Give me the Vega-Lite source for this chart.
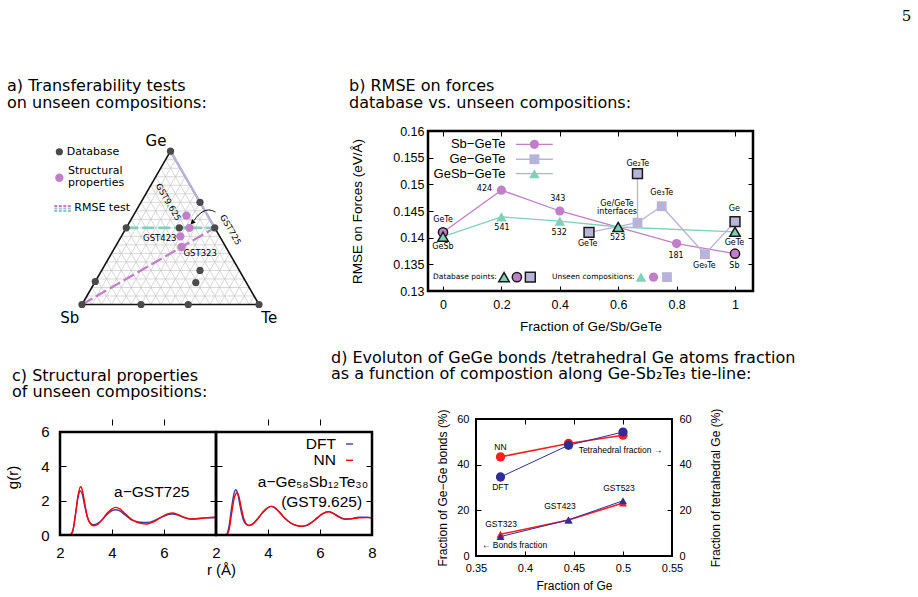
{
  "$schema": "https://vega.github.io/schema/vega-lite/v6.json",
  "background": "white",
  "padding": {"left": 5, "top": 8, "right": 2, "bottom": 2},
  "config": {
    "font": "DejaVu Sans",
    "view": {"stroke": "black", "strokeWidth": 2.5},
    "axis": {"grid": false, "domain": false, "tickColor": "black", "labelColor": "black", "titleColor": "black", "labelFont": "Liberation Sans", "titleFont": "Liberation Sans", "titleFontWeight": "normal", "tickSize": -5, "tickWidth": 1, "labelFlush": false},
    "title": {"font": "DejaVu Sans", "fontSize": 16, "fontWeight": "normal", "color": "black", "anchor": "start", "frame": "group"},
    "text": {"font": "DejaVu Sans", "color": "black"}
  },
  "title": {"text": "5", "anchor": "end", "frame": "bounds", "font": "DejaVu Serif", "fontSize": 15, "dx": 116, "offset": 53},
  "columns": 2,
  "align": "none",
  "bounds": "flush",
  "spacing": {"row": 128, "column": 56},
  "resolve": {"scale": {"color": "independent", "shape": "independent", "size": "independent"}},
  "datasets": {
    "triGrid": [
      {"x":0.0278,"y":0.0481,"x2":0.9722,"y2":0.0481},{"x":0.0556,"y":0.0962,"x2":0.9444,"y2":0.0962},{"x":0.0833,"y":0.1443,"x2":0.9167,"y2":0.1443},{"x":0.1111,"y":0.1925,"x2":0.8889,"y2":0.1925},{"x":0.1389,"y":0.2406,"x2":0.8611,"y2":0.2406},{"x":0.1667,"y":0.2887,"x2":0.8333,"y2":0.2887},{"x":0.1944,"y":0.3368,"x2":0.8056,"y2":0.3368},{"x":0.2222,"y":0.3849,"x2":0.7778,"y2":0.3849},{"x":0.25,"y":0.433,"x2":0.75,"y2":0.433},{"x":0.2778,"y":0.4811,"x2":0.7222,"y2":0.4811},{"x":0.3056,"y":0.5292,"x2":0.6944,"y2":0.5292},{"x":0.3333,"y":0.5774,"x2":0.6667,"y2":0.5774},{"x":0.3611,"y":0.6255,"x2":0.6389,"y2":0.6255},{"x":0.3889,"y":0.6736,"x2":0.6111,"y2":0.6736},{"x":0.4167,"y":0.7217,"x2":0.5833,"y2":0.7217},{"x":0.4444,"y":0.7698,"x2":0.5556,"y2":0.7698},{"x":0.4722,"y":0.8179,"x2":0.5278,"y2":0.8179},
      {"x":0.0556,"y":0,"x2":0.5278,"y2":0.8179},{"x":0.1111,"y":0,"x2":0.5556,"y2":0.7698},{"x":0.1667,"y":0,"x2":0.5833,"y2":0.7217},{"x":0.2222,"y":0,"x2":0.6111,"y2":0.6736},{"x":0.2778,"y":0,"x2":0.6389,"y2":0.6255},{"x":0.3333,"y":0,"x2":0.6667,"y2":0.5774},{"x":0.3889,"y":0,"x2":0.6944,"y2":0.5292},{"x":0.4444,"y":0,"x2":0.7222,"y2":0.4811},{"x":0.5,"y":0,"x2":0.75,"y2":0.433},{"x":0.5556,"y":0,"x2":0.7778,"y2":0.3849},{"x":0.6111,"y":0,"x2":0.8056,"y2":0.3368},{"x":0.6667,"y":0,"x2":0.8333,"y2":0.2887},{"x":0.7222,"y":0,"x2":0.8611,"y2":0.2406},{"x":0.7778,"y":0,"x2":0.8889,"y2":0.1925},{"x":0.8333,"y":0,"x2":0.9167,"y2":0.1443},{"x":0.8889,"y":0,"x2":0.9444,"y2":0.0962},{"x":0.9444,"y":0,"x2":0.9722,"y2":0.0481},
      {"x":0.0556,"y":0,"x2":0.0278,"y2":0.0481},{"x":0.1111,"y":0,"x2":0.0556,"y2":0.0962},{"x":0.1667,"y":0,"x2":0.0833,"y2":0.1443},{"x":0.2222,"y":0,"x2":0.1111,"y2":0.1925},{"x":0.2778,"y":0,"x2":0.1389,"y2":0.2406},{"x":0.3333,"y":0,"x2":0.1667,"y2":0.2887},{"x":0.3889,"y":0,"x2":0.1944,"y2":0.3368},{"x":0.4444,"y":0,"x2":0.2222,"y2":0.3849},{"x":0.5,"y":0,"x2":0.25,"y2":0.433},{"x":0.5556,"y":0,"x2":0.2778,"y2":0.4811},{"x":0.6111,"y":0,"x2":0.3056,"y2":0.5292},{"x":0.6667,"y":0,"x2":0.3333,"y2":0.5774},{"x":0.7222,"y":0,"x2":0.3611,"y2":0.6255},{"x":0.7778,"y":0,"x2":0.3889,"y2":0.6736},{"x":0.8333,"y":0,"x2":0.4167,"y2":0.7217},{"x":0.8889,"y":0,"x2":0.4444,"y2":0.7698},{"x":0.9444,"y":0,"x2":0.4722,"y2":0.8179}
    ],
    "triEdges": [
      {"x":0,"y":0,"x2":1,"y2":0},{"x":0,"y":0,"x2":0.5,"y2":0.866},{"x":0.5,"y":0.866,"x2":1,"y2":0}
    ],
    "triDb": [
      {"name":"Ge","x":0.5,"y":0.866},{"name":"Ge2Te","x":0.6667,"y":0.5774},{"name":"GeTe","x":0.75,"y":0.433},{"name":"GeSb","x":0.25,"y":0.433},{"name":"GST523","x":0.55,"y":0.433},{"name":"Ge15Sb85","x":0.075,"y":0.1299},{"name":"Sb","x":0,"y":0},{"name":"Sb2Te","x":0.3333,"y":0},{"name":"Sb2Te3","x":0.6,"y":0},{"name":"Te","x":1,"y":0},{"name":"GST225","x":0.6667,"y":0.1925},{"name":"GST124","x":0.6429,"y":0.1237}
    ],
    "triStruct": [
      {"name":"GST725","x":0.6071,"y":0.433},{"name":"GST9.625","x":0.59,"y":0.5023},{"name":"GST423","x":0.5556,"y":0.3849},{"name":"GST323","x":0.5625,"y":0.3248}
    ],
    "arrowA": [
      {"o":1,"x":0.754,"y":0.5226},{"o":2,"x":0.723,"y":0.5367},{"o":3,"x":0.689,"y":0.531},{"o":4,"x":0.655,"y":0.5056},{"o":5,"x":0.633,"y":0.4746}
    ],
    "rmse": [
      {"series":"Sb-GeTe","x":0,"y":0.141,"db":true},
      {"series":"Sb-GeTe","x":0.2,"y":0.1489,"db":false},
      {"series":"Sb-GeTe","x":0.4,"y":0.145,"db":false},
      {"series":"Sb-GeTe","x":0.8,"y":0.1389,"db":false},
      {"series":"Sb-GeTe","x":1,"y":0.137,"db":true},
      {"series":"Ge-GeTe","x":0.5,"y":0.141,"db":true},
      {"series":"Ge-GeTe","x":0.666,"y":0.1428,"db":false},
      {"series":"Ge-GeTe","x":0.666,"y":0.152,"db":true,"branch":0.1428},
      {"series":"Ge-GeTe","x":0.749,"y":0.1459,"db":false},
      {"series":"Ge-GeTe","x":0.897,"y":0.1369,"db":false},
      {"series":"Ge-GeTe","x":1,"y":0.143,"db":true},
      {"series":"GeSb-GeTe","x":0,"y":0.1402,"db":true},
      {"series":"GeSb-GeTe","x":0.2,"y":0.1439,"db":false},
      {"series":"GeSb-GeTe","x":0.4,"y":0.1431,"db":false},
      {"series":"GeSb-GeTe","x":0.6,"y":0.142,"db":true},
      {"series":"GeSb-GeTe","x":1,"y":0.1411,"db":true}
    ],
    "rmseLabels": [
      {"label":"GeTe","x":0,"y":0.1434},{"label":"GeSb","x":0,"y":0.1382},{"label":"424","x":0.142,"y":0.1491},{"label":"541","x":0.202,"y":0.1418},{"label":"343","x":0.393,"y":0.1472},{"label":"532","x":0.398,"y":0.1409},{"label":"GeTe","x":0.4955,"y":0.13875},{"label":"523","x":0.598,"y":0.14},{"label":"Ge/GeTe","x":0.596,"y":0.1463},{"label":"interfaces","x":0.596,"y":0.1448},{"label":"Ge₂Te","x":0.667,"y":0.1539},{"label":"Ge₃Te","x":0.749,"y":0.1484},{"label":"181","x":0.798,"y":0.1366},{"label":"Ge₉Te","x":0.895,"y":0.1346},{"label":"Ge","x":0.998,"y":0.1454},{"label":"GeTe","x":0.998,"y":0.139},{"label":"Sb","x":0.998,"y":0.1346}
    ],
    "keyLines": [
      {"series":"Sb-GeTe","x":0.25,"x2":0.376,"y":0.1575},{"series":"Ge-GeTe","x":0.25,"x2":0.376,"y":0.1547},{"series":"GeSb-GeTe","x":0.25,"x2":0.376,"y":0.152}
    ],
    "keyPts": [
      {"series":"Sb-GeTe","x":0.313,"y":0.1575,"db":false},{"series":"Ge-GeTe","x":0.313,"y":0.1547,"db":false},{"series":"GeSb-GeTe","x":0.313,"y":0.152,"db":false},
      {"series":"GeSb-GeTe","x":0.209,"y":0.1326,"db":true},{"series":"Sb-GeTe","x":0.253,"y":0.1326,"db":true},{"series":"Ge-GeTe","x":0.299,"y":0.1326,"db":true},
      {"series":"GeSb-GeTe","x":0.678,"y":0.1326,"db":false},{"series":"Sb-GeTe","x":0.721,"y":0.1326,"db":false},{"series":"Ge-GeTe","x":0.767,"y":0.1326,"db":false}
    ],
    "frameC": [{"r": 2, "r2": 8, "g": 0, "g2": 6}],
    "gr": [
      {"c":"GST725","m":"DFT","r":2.3,"g":0},{"c":"GST725","m":"DFT","r":2.4,"g":0.02},{"c":"GST725","m":"DFT","r":2.5,"g":0.3},{"c":"GST725","m":"DFT","r":2.6,"g":1.25},{"c":"GST725","m":"DFT","r":2.7,"g":2.25},{"c":"GST725","m":"DFT","r":2.78,"g":2.58},{"c":"GST725","m":"DFT","r":2.85,"g":2.4},{"c":"GST725","m":"DFT","r":2.95,"g":1.7},{"c":"GST725","m":"DFT","r":3.05,"g":1.05},{"c":"GST725","m":"DFT","r":3.15,"g":0.72},{"c":"GST725","m":"DFT","r":3.3,"g":0.6},{"c":"GST725","m":"DFT","r":3.45,"g":0.68},{"c":"GST725","m":"DFT","r":3.6,"g":0.86},{"c":"GST725","m":"DFT","r":3.8,"g":1.18},{"c":"GST725","m":"DFT","r":4.0,"g":1.42},{"c":"GST725","m":"DFT","r":4.15,"g":1.475},{"c":"GST725","m":"DFT","r":4.3,"g":1.4},{"c":"GST725","m":"DFT","r":4.5,"g":1.17},{"c":"GST725","m":"DFT","r":4.7,"g":0.93},{"c":"GST725","m":"DFT","r":4.9,"g":0.8},{"c":"GST725","m":"DFT","r":5.1,"g":0.74},{"c":"GST725","m":"DFT","r":5.35,"g":0.73},{"c":"GST725","m":"DFT","r":5.6,"g":0.82},{"c":"GST725","m":"DFT","r":5.8,"g":0.97},{"c":"GST725","m":"DFT","r":6.0,"g":1.1},{"c":"GST725","m":"DFT","r":6.2,"g":1.2},{"c":"GST725","m":"DFT","r":6.32,"g":1.22},{"c":"GST725","m":"DFT","r":6.5,"g":1.17},{"c":"GST725","m":"DFT","r":6.7,"g":1.06},{"c":"GST725","m":"DFT","r":6.9,"g":0.96},{"c":"GST725","m":"DFT","r":7.05,"g":0.93},{"c":"GST725","m":"DFT","r":7.3,"g":0.96},{"c":"GST725","m":"DFT","r":7.6,"g":1.0},{"c":"GST725","m":"DFT","r":8.0,"g":1.02},
      {"c":"GST725","m":"NN","r":2.3,"g":0},{"c":"GST725","m":"NN","r":2.4,"g":0.02},{"c":"GST725","m":"NN","r":2.5,"g":0.28},{"c":"GST725","m":"NN","r":2.6,"g":1.25},{"c":"GST725","m":"NN","r":2.7,"g":2.35},{"c":"GST725","m":"NN","r":2.79,"g":2.81},{"c":"GST725","m":"NN","r":2.86,"g":2.6},{"c":"GST725","m":"NN","r":2.95,"g":1.85},{"c":"GST725","m":"NN","r":3.05,"g":1.08},{"c":"GST725","m":"NN","r":3.15,"g":0.7},{"c":"GST725","m":"NN","r":3.3,"g":0.54},{"c":"GST725","m":"NN","r":3.45,"g":0.62},{"c":"GST725","m":"NN","r":3.6,"g":0.85},{"c":"GST725","m":"NN","r":3.8,"g":1.25},{"c":"GST725","m":"NN","r":4.0,"g":1.52},{"c":"GST725","m":"NN","r":4.14,"g":1.61},{"c":"GST725","m":"NN","r":4.3,"g":1.52},{"c":"GST725","m":"NN","r":4.5,"g":1.25},{"c":"GST725","m":"NN","r":4.7,"g":0.97},{"c":"GST725","m":"NN","r":4.9,"g":0.78},{"c":"GST725","m":"NN","r":5.1,"g":0.68},{"c":"GST725","m":"NN","r":5.35,"g":0.64},{"c":"GST725","m":"NN","r":5.6,"g":0.76},{"c":"GST725","m":"NN","r":5.8,"g":0.95},{"c":"GST725","m":"NN","r":6.0,"g":1.13},{"c":"GST725","m":"NN","r":6.2,"g":1.25},{"c":"GST725","m":"NN","r":6.32,"g":1.28},{"c":"GST725","m":"NN","r":6.5,"g":1.22},{"c":"GST725","m":"NN","r":6.7,"g":1.08},{"c":"GST725","m":"NN","r":6.9,"g":0.97},{"c":"GST725","m":"NN","r":7.05,"g":0.93},{"c":"GST725","m":"NN","r":7.3,"g":0.95},{"c":"GST725","m":"NN","r":7.6,"g":1.0},{"c":"GST725","m":"NN","r":8.0,"g":1.03},
      {"c":"GST9.625","m":"DFT","r":2.3,"g":0},{"c":"GST9.625","m":"DFT","r":2.4,"g":0.03},{"c":"GST9.625","m":"DFT","r":2.5,"g":0.5},{"c":"GST9.625","m":"DFT","r":2.6,"g":1.6},{"c":"GST9.625","m":"DFT","r":2.7,"g":2.45},{"c":"GST9.625","m":"DFT","r":2.76,"g":2.64},{"c":"GST9.625","m":"DFT","r":2.83,"g":2.45},{"c":"GST9.625","m":"DFT","r":2.93,"g":1.65},{"c":"GST9.625","m":"DFT","r":3.03,"g":0.98},{"c":"GST9.625","m":"DFT","r":3.13,"g":0.66},{"c":"GST9.625","m":"DFT","r":3.25,"g":0.55},{"c":"GST9.625","m":"DFT","r":3.4,"g":0.64},{"c":"GST9.625","m":"DFT","r":3.6,"g":0.95},{"c":"GST9.625","m":"DFT","r":3.8,"g":1.33},{"c":"GST9.625","m":"DFT","r":4.0,"g":1.6},{"c":"GST9.625","m":"DFT","r":4.12,"g":1.67},{"c":"GST9.625","m":"DFT","r":4.25,"g":1.6},{"c":"GST9.625","m":"DFT","r":4.45,"g":1.3},{"c":"GST9.625","m":"DFT","r":4.65,"g":0.97},{"c":"GST9.625","m":"DFT","r":4.85,"g":0.72},{"c":"GST9.625","m":"DFT","r":5.05,"g":0.57},{"c":"GST9.625","m":"DFT","r":5.3,"g":0.5},{"c":"GST9.625","m":"DFT","r":5.5,"g":0.56},{"c":"GST9.625","m":"DFT","r":5.7,"g":0.75},{"c":"GST9.625","m":"DFT","r":5.9,"g":1.0},{"c":"GST9.625","m":"DFT","r":6.1,"g":1.23},{"c":"GST9.625","m":"DFT","r":6.32,"g":1.36},{"c":"GST9.625","m":"DFT","r":6.5,"g":1.28},{"c":"GST9.625","m":"DFT","r":6.7,"g":1.1},{"c":"GST9.625","m":"DFT","r":6.85,"g":0.98},{"c":"GST9.625","m":"DFT","r":6.96,"g":0.93},{"c":"GST9.625","m":"DFT","r":7.2,"g":0.95},{"c":"GST9.625","m":"DFT","r":7.5,"g":1.03},{"c":"GST9.625","m":"DFT","r":7.8,"g":1.03},{"c":"GST9.625","m":"DFT","r":8.0,"g":1.01},
      {"c":"GST9.625","m":"NN","r":2.3,"g":0},{"c":"GST9.625","m":"NN","r":2.4,"g":0.01},{"c":"GST9.625","m":"NN","r":2.5,"g":0.3},{"c":"GST9.625","m":"NN","r":2.6,"g":1.25},{"c":"GST9.625","m":"NN","r":2.7,"g":2.15},{"c":"GST9.625","m":"NN","r":2.81,"g":2.45},{"c":"GST9.625","m":"NN","r":2.88,"g":2.25},{"c":"GST9.625","m":"NN","r":2.97,"g":1.6},{"c":"GST9.625","m":"NN","r":3.07,"g":0.95},{"c":"GST9.625","m":"NN","r":3.17,"g":0.64},{"c":"GST9.625","m":"NN","r":3.28,"g":0.55},{"c":"GST9.625","m":"NN","r":3.4,"g":0.62},{"c":"GST9.625","m":"NN","r":3.6,"g":0.93},{"c":"GST9.625","m":"NN","r":3.8,"g":1.32},{"c":"GST9.625","m":"NN","r":4.0,"g":1.6},{"c":"GST9.625","m":"NN","r":4.12,"g":1.67},{"c":"GST9.625","m":"NN","r":4.25,"g":1.61},{"c":"GST9.625","m":"NN","r":4.45,"g":1.32},{"c":"GST9.625","m":"NN","r":4.65,"g":0.98},{"c":"GST9.625","m":"NN","r":4.85,"g":0.73},{"c":"GST9.625","m":"NN","r":5.05,"g":0.58},{"c":"GST9.625","m":"NN","r":5.3,"g":0.51},{"c":"GST9.625","m":"NN","r":5.5,"g":0.57},{"c":"GST9.625","m":"NN","r":5.7,"g":0.76},{"c":"GST9.625","m":"NN","r":5.9,"g":1.01},{"c":"GST9.625","m":"NN","r":6.1,"g":1.24},{"c":"GST9.625","m":"NN","r":6.32,"g":1.35},{"c":"GST9.625","m":"NN","r":6.5,"g":1.26},{"c":"GST9.625","m":"NN","r":6.7,"g":1.07},{"c":"GST9.625","m":"NN","r":6.85,"g":0.96},{"c":"GST9.625","m":"NN","r":6.96,"g":0.92},{"c":"GST9.625","m":"NN","r":7.2,"g":0.94},{"c":"GST9.625","m":"NN","r":7.5,"g":1.0},{"c":"GST9.625","m":"NN","r":7.8,"g":1.01},{"c":"GST9.625","m":"NN","r":8.0,"g":1.0}
    ],
    "bonds": [
      {"meth":"NN","x":0.375,"y":9.5},{"meth":"NN","x":0.4444,"y":15.8},{"meth":"NN","x":0.5,"y":23.2},
      {"meth":"DFT","x":0.375,"y":8.5},{"meth":"DFT","x":0.4444,"y":15.8},{"meth":"DFT","x":0.5,"y":24.2}
    ],
    "tetra": [
      {"meth":"NN","x":0.375,"y":43.4},{"meth":"NN","x":0.4444,"y":49.3},{"meth":"NN","x":0.5,"y":52.9},
      {"meth":"DFT","x":0.375,"y":34.6},{"meth":"DFT","x":0.4444,"y":48.5},{"meth":"DFT","x":0.5,"y":54.3}
    ]
  },
  "concat": [
    {
      "width": 264, "height": 160,
      "view": {"stroke": null},
      "title": {"text": ["a) Transferability tests", "on unseen compositions:"], "dx": -53, "offset": 20, "lineHeight": 17},
      "encoding": {
        "x": {"field": "x", "type": "quantitative", "scale": {"domain": [-0.1243, 1.3672], "nice": false, "zero": false}, "axis": null},
        "y": {"field": "y", "type": "quantitative", "scale": {"domain": [0.0763, 0.9802], "nice": false, "zero": false}, "axis": null}
      },
      "layer": [
        {"data": {"name": "triGrid"}, "mark": {"type": "rule", "color": "#c6c6c6", "strokeWidth": 0.7}, "encoding": {"x2": {"field": "x2"}, "y2": {"field": "y2"}}},
        {"data": {"name": "triEdges"}, "mark": {"type": "rule", "color": "#111111", "strokeWidth": 1.6}, "encoding": {"x2": {"field": "x2"}, "y2": {"field": "y2"}}},
        {"data": {"values": [{"series": "Ge-GeTe", "x": 0.5, "y": 0.866, "x2": 0.75, "y2": 0.433}]}, "mark": {"type": "rule", "color": "#b7b4d9", "strokeWidth": 2.4}, "encoding": {"x2": {"field": "x2"}, "y2": {"field": "y2"}}},
        {"data": {"values": [{"series": "GeSb-GeTe", "x": 0.25, "y": 0.433, "x2": 0.75, "y2": 0.433}]}, "mark": {"type": "rule", "color": "#7fd1b9", "strokeWidth": 2.6, "strokeDash": [12, 4]}, "encoding": {"x2": {"field": "x2"}, "y2": {"field": "y2"}}},
        {"data": {"values": [{"series": "Sb-GeTe", "x": 0, "y": 0, "x2": 0.75, "y2": 0.433}]}, "mark": {"type": "rule", "color": "#c27fc9", "strokeWidth": 2.2, "strokeDash": [12, 4]}, "encoding": {"x2": {"field": "x2"}, "y2": {"field": "y2"}}},
        {"data": {"name": "triDb"}, "mark": {"type": "point", "filled": true, "color": "#4a4a4a", "size": 52, "opacity": 1}},
        {"data": {"name": "triStruct"}, "mark": {"type": "point", "filled": true, "color": "#c27fc9", "size": 70, "opacity": 1}},
        {"data": {"name": "arrowA"}, "mark": {"type": "line", "color": "black", "strokeWidth": 1, "interpolate": "basis"}, "encoding": {"order": {"field": "o", "type": "quantitative"}}},
        {"data": {"values": [{"x": 0.626, "y": 0.466}]}, "mark": {"type": "point", "shape": "triangle", "angle": 225, "filled": true, "color": "black", "size": 28, "opacity": 1}},
        {"data": {"values": [{"label": "Ge", "x": 0.418, "y": 0.921}, {"label": "Sb", "x": -0.0695, "y": -0.0746}, {"label": "Te", "x": 1.058, "y": -0.0746}]}, "mark": {"type": "text", "fontSize": 15, "align": "center", "baseline": "middle"}, "encoding": {"text": {"field": "label"}}},
        {"data": {"values": [{"label": "GST9.625", "x": 0.4887, "y": 0.579}, {"label": "GST725", "x": 0.84, "y": 0.4226}]}, "mark": {"type": "text", "fontSize": 8.5, "angle": 60, "align": "center", "baseline": "middle"}, "encoding": {"text": {"field": "label"}}},
        {"data": {"values": [{"label": "GST423", "x": 0.4395, "y": 0.3757}, {"label": "GST323", "x": 0.668, "y": 0.2927}]}, "mark": {"type": "text", "fontSize": 8.5, "align": "center", "baseline": "middle"}, "encoding": {"text": {"field": "label"}}},
        {"data": {"values": [{"label": "Database", "x": -0.0864, "y": 0.863}, {"label": "Structural", "x": -0.079, "y": 0.752}, {"label": "properties", "x": -0.079, "y": 0.686}, {"label": "RMSE test", "x": -0.0435, "y": 0.5435}]}, "mark": {"type": "text", "fontSize": 11, "align": "left", "baseline": "middle"}, "encoding": {"text": {"field": "label"}}},
        {"data": {"values": [{"x": -0.128, "y": 0.863}]}, "mark": {"type": "point", "filled": true, "color": "#4a4a4a", "size": 52, "opacity": 1}},
        {"data": {"values": [{"x": -0.128, "y": 0.716}]}, "mark": {"type": "point", "filled": true, "color": "#c27fc9", "size": 70, "opacity": 1}},
        {"data": {"values": [{"series": "Sb-GeTe", "x": -0.1565, "x2": -0.0582, "y": 0.5565}, {"series": "Ge-GeTe", "x": -0.1565, "x2": -0.0582, "y": 0.5424}, {"series": "GeSb-GeTe", "x": -0.1565, "x2": -0.0582, "y": 0.5282}]},
         "mark": {"type": "rule", "strokeWidth": 2, "strokeDash": [3, 1.5]},
         "encoding": {"x2": {"field": "x2"}, "color": {"field": "series", "type": "nominal", "scale": {"domain": ["Sb-GeTe", "Ge-GeTe", "GeSb-GeTe"], "range": ["#c27fc9", "#b7b4d9", "#7fd1b9"]}, "legend": null}}}
      ]
    },
    {
      "width": 325, "height": 160,
      "title": {"text": ["b) RMSE on forces", "    database vs. unseen compositions:"], "dx": -79, "offset": 14, "lineHeight": 17},
      "layer": [
        {
          "encoding": {
            "x": {"field": "x", "type": "quantitative", "scale": {"domain": [-0.0514, 1.0616], "nice": false, "zero": false},
                  "axis": {"values": [0, 0.2, 0.4, 0.6, 0.8, 1], "format": "~g", "title": "Fraction of Ge/Sb/GeTe", "labelFontSize": 12.5, "titleFontSize": 13.5, "labelPadding": 12, "titlePadding": 8.5}},
            "y": {"field": "y", "type": "quantitative", "scale": {"domain": [0.13, 0.16], "nice": false, "zero": false},
                  "axis": {"values": [0.13, 0.135, 0.14, 0.145, 0.15, 0.155, 0.16], "format": "~g", "title": "RMSE on Forces (eV/Å)", "labelFontSize": 12.5, "titleFontSize": 13.5, "labelPadding": 9, "titlePadding": 28}}
          },
          "layer": [
            {"data": {"name": "rmse"}, "transform": [{"filter": "!isValid(datum.branch)"}], "mark": {"type": "line", "strokeWidth": 1.3},
             "encoding": {"color": {"field": "series", "type": "nominal", "scale": {"domain": ["Sb-GeTe", "Ge-GeTe", "GeSb-GeTe"], "range": ["#c27fc9", "#b7b4d9", "#7fd1b9"]}, "legend": null}}},
            {"data": {"name": "rmse"}, "transform": [{"filter": "isValid(datum.branch)"}], "mark": {"type": "rule", "color": "#b7b4d9", "strokeWidth": 1.3}, "encoding": {"y2": {"field": "branch"}}},
            {"data": {"name": "keyLines"}, "mark": {"type": "rule", "strokeWidth": 1.3},
             "encoding": {"x2": {"field": "x2"}, "color": {"field": "series", "type": "nominal", "scale": {"domain": ["Sb-GeTe", "Ge-GeTe", "GeSb-GeTe"], "range": ["#c27fc9", "#b7b4d9", "#7fd1b9"]}, "legend": null}}},
            {"data": {"name": "rmse"}, "mark": {"type": "point", "filled": true, "stroke": "#1a1a1a", "opacity": 1},
             "encoding": {
               "color": {"field": "series", "type": "nominal", "scale": {"domain": ["Sb-GeTe", "Ge-GeTe", "GeSb-GeTe"], "range": ["#c27fc9", "#b7b4d9", "#7fd1b9"]}, "legend": null},
               "shape": {"field": "series", "type": "nominal", "scale": {"domain": ["Sb-GeTe", "Ge-GeTe", "GeSb-GeTe"], "range": ["circle", "square", "triangle-up"]}, "legend": null},
               "size": {"field": "series", "type": "nominal", "scale": {"domain": ["Sb-GeTe", "Ge-GeTe", "GeSb-GeTe"], "range": [85, 110, 70]}, "legend": null},
               "strokeWidth": {"condition": {"test": "datum.db", "value": 1.5}, "value": 0}
             }},
            {"data": {"name": "keyPts"}, "mark": {"type": "point", "filled": true, "stroke": "#1a1a1a", "opacity": 1},
             "encoding": {
               "color": {"field": "series", "type": "nominal", "scale": {"domain": ["Sb-GeTe", "Ge-GeTe", "GeSb-GeTe"], "range": ["#c27fc9", "#b7b4d9", "#7fd1b9"]}, "legend": null},
               "shape": {"field": "series", "type": "nominal", "scale": {"domain": ["Sb-GeTe", "Ge-GeTe", "GeSb-GeTe"], "range": ["circle", "square", "triangle-up"]}, "legend": null},
               "size": {"field": "series", "type": "nominal", "scale": {"domain": ["Sb-GeTe", "Ge-GeTe", "GeSb-GeTe"], "range": [85, 110, 70]}, "legend": null},
               "strokeWidth": {"condition": {"test": "datum.db", "value": 1.5}, "value": 0}
             }},
            {"data": {"name": "rmseLabels"}, "mark": {"type": "text", "fontSize": 8, "align": "center", "baseline": "middle"}, "encoding": {"text": {"field": "label"}}},
            {"data": {"values": [{"label": "Sb−GeTe", "x": 0.214, "y": 0.1575}, {"label": "Ge−GeTe", "x": 0.214, "y": 0.1547}, {"label": "GeSb−GeTe", "x": 0.214, "y": 0.152}]}, "mark": {"type": "text", "font": "Liberation Sans", "fontSize": 13, "align": "right", "baseline": "middle"}, "encoding": {"text": {"field": "label"}}},
            {"data": {"values": [{"label": "Database points:", "x": -0.034, "y": 0.1326}, {"label": "Unseen compositions:", "x": 0.373, "y": 0.1326}]}, "mark": {"type": "text", "fontSize": 7.5, "align": "left", "baseline": "middle"}, "encoding": {"text": {"field": "label"}}}
          ]
        },
        {
          "data": {"name": "keyLines"},
          "mark": {"type": "point", "opacity": 0},
          "encoding": {
            "x": {"field": "x", "type": "quantitative", "scale": {"domain": [-0.0514, 1.0616], "nice": false, "zero": false},
                  "axis": {"orient": "top", "values": [0, 0.2, 0.4, 0.6, 0.8, 1], "labels": false, "title": null}},
            "y": {"field": "y", "type": "quantitative", "scale": {"domain": [0.13, 0.16], "nice": false, "zero": false},
                  "axis": {"orient": "right", "values": [0.13, 0.135, 0.14, 0.145, 0.15, 0.155, 0.16], "labels": false, "title": null}}
          }
        }
      ],
      "resolve": {"axis": {"x": "independent", "y": "independent"}}
    },
    {
      "width": 312, "height": 116,
      "view": {"stroke": null},
      "title": {"text": ["c) Structural properties", "of unseen compositions:"], "dx": -48, "offset": 19, "lineHeight": 16},
      "layer": [
        {
          "layer": [
            {
              "encoding": {
                "x": {"field": "r", "type": "quantitative", "scale": {"domain": [2, 8], "range": [0, 156], "nice": false, "zero": false},
                      "axis": {"orient": "bottom", "values": [2, 4, 6], "title": "r (Å)", "titleX": 161, "labelFontSize": 15, "titleFontSize": 15, "labelPadding": 16, "titlePadding": 2, "tickSize": -6}},
                "y": {"field": "g", "type": "quantitative", "scale": {"domain": [0, 6.757], "nice": false, "zero": false},
                      "axis": {"orient": "left", "values": [0, 2, 4, 6], "title": "g(r)", "labelFontSize": 15, "titleFontSize": 15, "labelPadding": 17, "titlePadding": 20, "tickSize": -6}}
              },
              "layer": [
                {"data": {"name": "gr"}, "transform": [{"filter": "datum.c == 'GST725'"}], "mark": {"type": "line", "interpolate": "monotone", "strokeWidth": 1.4},
                 "encoding": {"color": {"field": "m", "type": "nominal", "scale": {"domain": ["DFT", "NN"], "range": ["#3d3db0", "#ff0000"]}, "legend": null}}},
                {"data": {"values": [{"label": "a−GST725", "r": 5.53, "g": 2.52}]}, "mark": {"type": "text", "font": "Liberation Sans", "fontSize": 15.5, "align": "center", "baseline": "middle"}, "encoding": {"text": {"field": "label"}}},
                {"data": {"name": "frameC"}, "mark": {"type": "rect", "fillOpacity": 0, "stroke": "black", "strokeWidth": 2.5}, "encoding": {"x2": {"field": "r2"}, "y2": {"field": "g2"}}}
              ]
            },
            {
              "data": {"name": "frameC"},
              "mark": {"type": "point", "opacity": 0},
              "encoding": {
                "x": {"field": "r", "type": "quantitative", "scale": {"domain": [2, 8], "range": [0, 156], "nice": false, "zero": false},
                      "axis": {"orient": "top", "values": [4, 6], "labels": false, "title": null, "tickSize": -6}},
                "y": {"field": "g", "type": "quantitative", "scale": {"domain": [0, 6.757], "nice": false, "zero": false},
                      "axis": {"orient": "right", "offset": -156, "values": [2, 4], "labels": false, "title": null, "tickSize": -6}}
              }
            }
          ],
          "resolve": {"axis": {"x": "independent", "y": "independent"}}
        },
        {
          "layer": [
            {
              "encoding": {
                "x": {"field": "r", "type": "quantitative", "scale": {"domain": [2, 8], "range": [156, 312], "nice": false, "zero": false},
                      "axis": {"orient": "bottom", "values": [2, 4, 6, 8], "title": null, "labelFontSize": 15, "labelPadding": 16, "tickSize": -6}},
                "y": {"field": "g", "type": "quantitative", "scale": {"domain": [0, 6.757], "nice": false, "zero": false},
                      "axis": {"orient": "right", "values": [2, 4], "labels": false, "title": null, "tickSize": -6}}
              },
              "layer": [
                {"data": {"name": "gr"}, "transform": [{"filter": "datum.c == 'GST9.625'"}], "mark": {"type": "line", "interpolate": "monotone", "strokeWidth": 1.4},
                 "encoding": {"color": {"field": "m", "type": "nominal", "scale": {"domain": ["DFT", "NN"], "range": ["#3d3db0", "#ff0000"]}, "legend": null}}},
                {"data": {"values": [{"m": "DFT", "r": 7.0, "r2": 7.27, "g": 5.3}, {"m": "NN", "r": 7.0, "r2": 7.27, "g": 4.35}]}, "mark": {"type": "rule", "strokeWidth": 1.4},
                 "encoding": {"x2": {"field": "r2"}, "color": {"field": "m", "type": "nominal", "scale": {"domain": ["DFT", "NN"], "range": ["#3d3db0", "#ff0000"]}, "legend": null}}},
                {"data": {"values": [{"label": "DFT", "r": 6.615, "g": 5.3}, {"label": "NN", "r": 6.615, "g": 4.35}, {"label": "a−Ge₅₈Sb₁₂Te₃₀", "r": 7.85, "g": 3.07}, {"label": "(GST9.625)", "r": 7.62, "g": 1.95}]},
                 "mark": {"type": "text", "font": "Liberation Sans", "fontSize": 15.5, "align": "right", "baseline": "middle"}, "encoding": {"text": {"field": "label"}}},
                {"data": {"name": "frameC"}, "mark": {"type": "rect", "fillOpacity": 0, "stroke": "black", "strokeWidth": 2.5}, "encoding": {"x2": {"field": "r2"}, "y2": {"field": "g2"}}}
              ]
            },
            {
              "data": {"name": "frameC"},
              "mark": {"type": "point", "opacity": 0},
              "encoding": {
                "x": {"field": "r", "type": "quantitative", "scale": {"domain": [2, 8], "range": [156, 312], "nice": false, "zero": false},
                      "axis": {"orient": "top", "values": [4, 6], "labels": false, "title": null, "tickSize": -6}},
                "y": {"field": "g", "type": "quantitative", "scale": {"domain": [0, 6.757], "nice": false, "zero": false},
                      "axis": {"orient": "left", "offset": -156, "values": [2, 4], "labels": false, "title": null, "tickSize": -6}}
              }
            }
          ],
          "resolve": {"axis": {"x": "independent", "y": "independent"}}
        }
      ],
      "resolve": {"scale": {"x": "independent"}, "axis": {"x": "independent", "y": "independent"}}
    },
    {
      "width": 244, "height": 137,
      "view": {"stroke": null},
      "title": {"text": ["d) Evoluton of GeGe bonds /tetrahedral Ge atoms fraction", " as a function of compostion along Ge-Sb₂Te₃ tie-line:"], "dx": -97, "offset": 26, "lineHeight": 16},
      "layer": [
        {
          "encoding": {
            "x": {"field": "x", "type": "quantitative", "scale": {"domain": [0.30102, 0.55], "nice": false, "zero": false},
                  "axis": {"values": [0.35, 0.4, 0.45, 0.5, 0.55], "format": "~g", "title": "Fraction of Ge", "titleX": 146, "labelFontSize": 11, "titleFontSize": 12, "labelPadding": 11, "titlePadding": 7}},
            "y": {"field": "y", "type": "quantitative", "scale": {"domain": [0, 60], "nice": false, "zero": false},
                  "axis": {"orient": "left", "offset": -48, "values": [0, 20, 40, 60], "title": "Fraction of Ge−Ge bonds (%)", "labelFontSize": 11, "titleFontSize": 12, "labelPadding": 12, "titlePadding": 7}}
          },
          "layer": [
            {"data": {"values": [{"x": 0.35, "x2": 0.55, "y": 0, "y2": 60}]}, "mark": {"type": "rect", "fillOpacity": 0, "stroke": "black", "strokeWidth": 2}, "encoding": {"x2": {"field": "x2"}, "y2": {"field": "y2"}}},
            {"data": {"name": "bonds"}, "mark": {"type": "line"},
             "encoding": {"color": {"field": "meth", "type": "nominal", "scale": {"domain": ["DFT", "NN"], "range": ["#2e2e96", "#ff1f1f"]}, "legend": null},
                          "strokeWidth": {"field": "meth", "type": "nominal", "scale": {"domain": ["DFT", "NN"], "range": [1, 1.6]}, "legend": null}}},
            {"data": {"name": "bonds"}, "mark": {"type": "point", "shape": "triangle-up", "filled": true, "size": 64, "opacity": 1},
             "encoding": {"color": {"field": "meth", "type": "nominal", "scale": {"domain": ["DFT", "NN"], "range": ["#2e2e96", "#ff1f1f"]}, "legend": null}}},
            {"data": {"values": [{"label": "GST323", "x": 0.3756, "y": 14}, {"label": "GST423", "x": 0.4357, "y": 21.9}, {"label": "GST523", "x": 0.4959, "y": 29.9}, {"label": "← Bonds fraction", "x": 0.3893, "y": 4.8}]},
             "mark": {"type": "text", "font": "Liberation Sans", "fontSize": 8.5, "align": "center", "baseline": "middle"}, "encoding": {"text": {"field": "label"}}}
          ]
        },
        {
          "encoding": {
            "x": {"field": "x", "type": "quantitative", "scale": {"domain": [0.30102, 0.55], "nice": false, "zero": false}, "axis": null},
            "y": {"field": "y", "type": "quantitative", "scale": {"domain": [0, 60], "nice": false, "zero": false},
                  "axis": {"orient": "right", "values": [0, 20, 40, 60], "title": "Fraction of tetrahedral Ge (%)", "titleAngle": 270, "labelFontSize": 11, "titleFontSize": 12, "labelPadding": 12, "titlePadding": 31}}
          },
          "layer": [
            {"data": {"name": "tetra"}, "mark": {"type": "line"},
             "encoding": {"color": {"field": "meth", "type": "nominal", "scale": {"domain": ["DFT", "NN"], "range": ["#2e2e96", "#ff1f1f"]}, "legend": null},
                          "strokeWidth": {"field": "meth", "type": "nominal", "scale": {"domain": ["DFT", "NN"], "range": [1, 1.6]}, "legend": null}}},
            {"data": {"name": "tetra"}, "mark": {"type": "point", "shape": "circle", "filled": true, "size": 86, "opacity": 1},
             "encoding": {"color": {"field": "meth", "type": "nominal", "scale": {"domain": ["DFT", "NN"], "range": ["#2e2e96", "#ff1f1f"]}, "legend": null}}},
            {"data": {"values": [{"label": "NN", "x": 0.375, "y": 47.9}, {"label": "DFT", "x": 0.375, "y": 30.2}, {"label": "Tetrahedral fraction →", "x": 0.4974, "y": 46.4}]},
             "mark": {"type": "text", "font": "Liberation Sans", "fontSize": 8.5, "align": "center", "baseline": "middle"}, "encoding": {"text": {"field": "label"}}}
          ]
        },
        {
          "data": {"name": "tetra"},
          "mark": {"type": "point", "opacity": 0},
          "encoding": {
            "x": {"field": "x", "type": "quantitative", "scale": {"domain": [0.30102, 0.55], "nice": false, "zero": false},
                  "axis": {"orient": "top", "values": [0.35, 0.4, 0.45, 0.5, 0.55], "labels": false, "title": null}},
            "y": {"field": "y", "type": "quantitative", "scale": {"domain": [0, 60], "nice": false, "zero": false}, "axis": null}
          }
        }
      ],
      "resolve": {"scale": {"y": "independent"}, "axis": {"x": "independent"}}
    }
  ]
}
